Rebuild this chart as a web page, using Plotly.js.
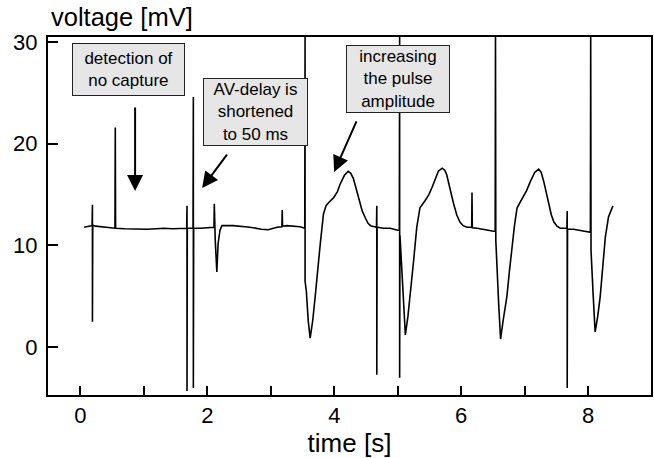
<!DOCTYPE html>
<html>
<head>
<meta charset="utf-8">
<script src="https://cdn.plot.ly/plotly-3.0.1.min.js"></script>
<style>html,body{margin:0;padding:0;background:#fff;}#chart{width:654px;height:458px;}</style>
</head>
<body>
<div id="chart"></div>
<script>
// time [s]
const timeS = [
  0.06, 0.12, 0.17, 0.185, 0.19, 0.19, 0.195, 0.24, 0.33, 0.45, 0.545, 0.55, 0.555,
  0.70, 0.85, 1.05, 1.20, 1.31, 1.45, 1.57, 1.675, 1.68, 1.68, 1.685, 1.775, 1.78, 1.78, 1.785,
  1.89, 2.04, 2.105, 2.11, 2.125, 2.15, 2.17, 2.20, 2.23, 2.41, 2.55, 2.67, 2.85, 2.96, 3.10,
  3.175, 3.18, 3.185, 3.25, 3.46, 3.535, 3.54, 3.54, 3.56, 3.59, 3.62, 3.66, 3.70, 3.74, 3.78,
  3.83, 3.87, 3.91, 3.99, 4.05, 4.09, 4.16, 4.22, 4.26, 4.30, 4.34, 4.38, 4.44, 4.49, 4.53, 4.57,
  4.665, 4.67, 4.67, 4.675, 4.78, 4.88, 5.00, 5.025, 5.03, 5.03, 5.035, 5.07, 5.12, 5.16, 5.20,
  5.25, 5.30, 5.35, 5.43, 5.49, 5.54, 5.60, 5.64, 5.70, 5.74, 5.77, 5.82, 5.88, 5.93, 5.98, 6.03,
  6.09, 6.165, 6.17, 6.175, 6.25, 6.40, 6.51, 6.535, 6.54, 6.545, 6.59, 6.62, 6.66, 6.72, 6.76,
  6.80, 6.84, 6.88, 6.96, 7.03, 7.09, 7.16, 7.22, 7.26, 7.30, 7.34, 7.38, 7.42, 7.46, 7.51, 7.56,
  7.665, 7.67, 7.67, 7.675, 7.77, 7.93, 8.035, 8.04, 8.045, 8.08, 8.11, 8.15, 8.19, 8.23, 8.27,
  8.32, 8.39
];
// voltage [mV]
const voltageMV = [
  11.8, 11.85, 11.95, 12.0, 14.0, 2.5, 12.0, 11.9, 11.85, 11.75, 11.7, 21.6, 11.7,
  11.65, 11.6, 11.6, 11.65, 11.7, 11.65, 11.7, 11.7, 13.9, -4.3, 11.7, 11.7, 24.6, -4.0, 11.7,
  11.7, 11.8, 11.8, 14.1, 10.5, 7.4, 10.2, 11.5, 11.95, 11.95, 11.9, 11.8, 11.6, 11.55, 11.8,
  11.85, 13.5, 11.9, 11.95, 11.85, 11.7, 31, 6.5, 5.5, 2.6, 0.9, 2.6, 5.0, 7.8, 10.2,
  13.1, 13.9, 14.2, 14.7, 15.3, 16.0, 16.9, 17.3, 17.1, 16.6, 15.7, 14.7, 13.4, 12.7, 12.2, 11.95,
  11.8, 13.9, -2.7, 11.8, 11.7, 11.7, 11.5, 11.5, 31, -3.0, 11.0, 7.0, 1.2, 3.0, 5.3,
  8.5, 11.8, 13.7, 14.4, 15.0, 15.7, 16.7, 17.3, 17.6, 17.4, 17.0, 15.6, 14.1, 13.0, 12.3, 11.95,
  11.8, 11.8, 15.2, 11.75, 11.7, 11.5, 11.4, 11.4, 31, 10.5, 4.3, 0.8, 2.6, 5.0, 7.5,
  9.8, 12.0, 13.7, 14.6, 15.4, 16.3, 17.2, 17.5, 17.2, 16.3, 15.2, 14.1, 13.0, 12.3, 11.9, 11.7,
  11.7, 13.4, -4.0, 11.6, 11.6, 11.4, 11.3, 31, 9.5, 5.0, 1.5, 3.0, 5.0, 7.9, 10.8,
  12.8, 13.9
];

const xTickVals = [0, 1, 2, 3, 4, 5, 6, 7, 8];
const xTickText = ['0', '', '2', '', '4', '', '6', '', '8'];
const yTickVals = [0, 10, 20, 30];

const noteTexts = ['detection of<br>no capture', 'AV-delay is<br>shortened<br>to 50 ms', 'increasing<br>the pulse<br>amplitude'];
const noteX = [0.76, 2.761, 5.007];
const noteY = [27.3, 23.13, 26.37];
const arrowX = [0.862, 1.918, 3.998];
const arrowY = [15.36, 15.65, 17.23];

const FONT = 'Liberation Sans, Arial, Helvetica, sans-serif';

const trace = {
  x: timeS, y: voltageMV, type: 'scatter', mode: 'lines',
  line: {color: '#000', width: 1.6}, hoverinfo: 'skip'
};

const boxW = [111, 103, 102];
const boxH = [51, 66, 66];
const arrowAx = [0, 26, 23];
const arrowAy = [-85, -35, -52];

const annotations = [];
for (let i = 0; i < noteTexts.length; i++) {
  annotations.push({
    x: noteX[i], y: noteY[i], xref: 'x', yref: 'y', text: noteTexts[i],
    showarrow: false, xanchor: 'center', yanchor: 'middle',
    width: boxW[i], height: boxH[i], bgcolor: '#e6e6e6', bordercolor: '#222',
    borderwidth: 1, borderpad: 0, font: {family: FONT, size: 17, color: '#000'}
  });
  annotations.push({
    x: arrowX[i], y: arrowY[i], xref: 'x', yref: 'y', text: '',
    showarrow: true, arrowhead: 2, arrowsize: 1.6, arrowwidth: 2, arrowcolor: '#000',
    ax: arrowAx[i], ay: arrowAy[i], standoff: 0
  });
}
annotations.push({
  xref: 'paper', yref: 'paper', x: 0.002, y: 1.056, xanchor: 'left', yanchor: 'middle',
  text: 'voltage [mV]', showarrow: false, font: {family: FONT, size: 25.5, color: '#000'}
});

const layout = {
  width: 654, height: 458,
  margin: {l: 48, r: 3, t: 37, b: 63, pad: 0},
  paper_bgcolor: '#fff', plot_bgcolor: '#fff',
  showlegend: false,
  font: {family: FONT, color: '#000'},
  xaxis: {
    range: [-0.51, 8.99], tickmode: 'array', tickvals: xTickVals, ticktext: xTickText,
    ticks: 'inside', ticklen: 9, tickwidth: 2, tickcolor: '#000',
    showline: true, linewidth: 2, linecolor: '#000', mirror: true,
    showgrid: false, zeroline: false, tickfont: {family: FONT, size: 22, color: '#000'},
    title: {text: 'time [s]', font: {family: FONT, size: 26, color: '#000'}, standoff: 1}
  },
  yaxis: {
    range: [-4.7, 30.5], tickmode: 'array', tickvals: yTickVals,
    ticks: 'inside', ticklen: 10, tickwidth: 2, tickcolor: '#000', ticklabelstandoff: 4,
    showline: true, linewidth: 2, linecolor: '#000', mirror: true,
    showgrid: false, zeroline: false, tickfont: {family: FONT, size: 22, color: '#000'}
  },
  annotations: annotations
};

Plotly.newPlot('chart', [trace], layout, {staticPlot: true, displayModeBar: false});
</script>
</body>
</html>
